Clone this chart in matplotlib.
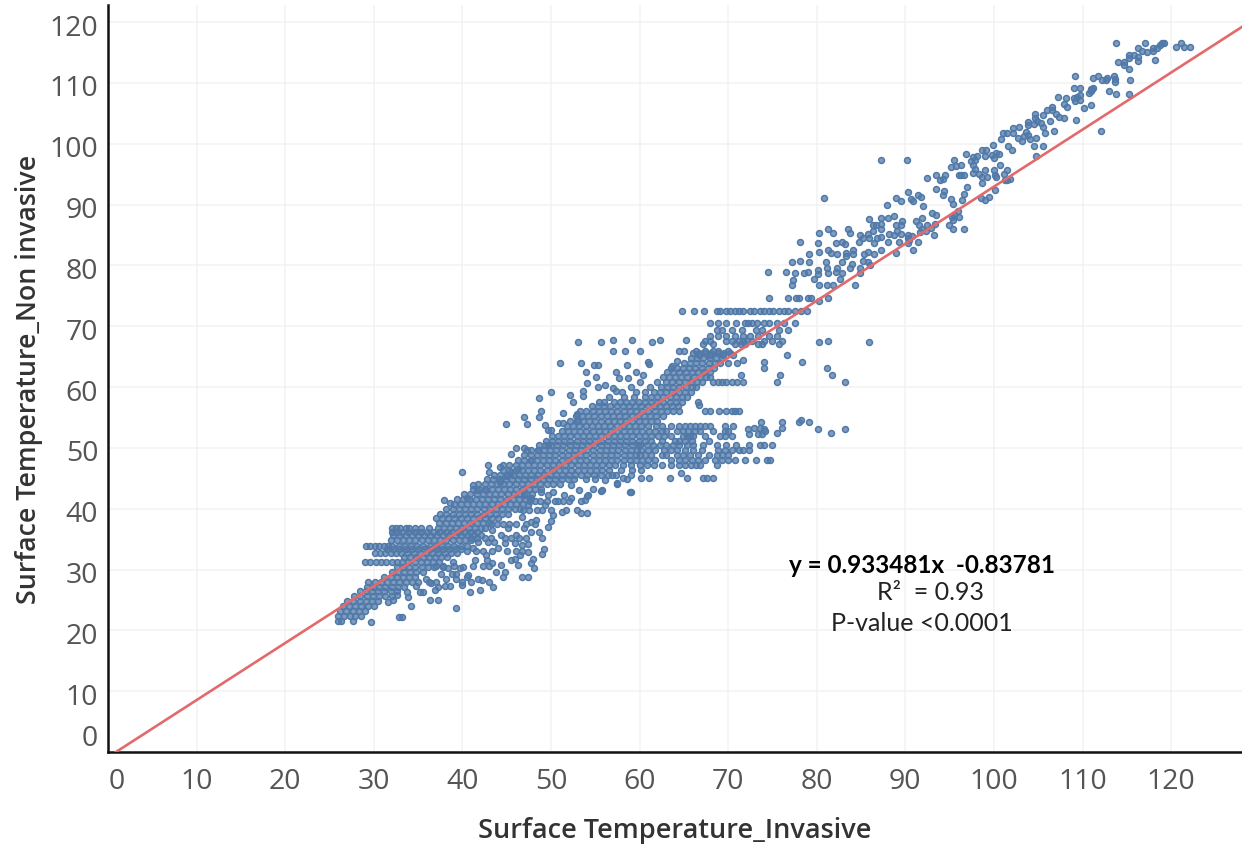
import matplotlib
matplotlib.use("Agg")
import matplotlib.pyplot as plt
from matplotlib.transforms import ScaledTranslation

# points above x=100, read one by one
top_x = [113.8,117.0,119.0,119.2,118.8,121.1,120.5,121.4,122.1,116.3,116.7,117.3,117.9,117.9,118.4,118.2,114.0,114.7,114.7,115.2,115.4,
         115.2,115.8,116.3,116.3,115.2,113.5,113.7,113.7,112.8,112.6,112.2,111.8,111.2,109.2,113.0,113.8,115.3,112.1,110.9,111.1,110.7,111.2,110.9,
         109.0,109.7,109.0,109.4,109.7,109.7,109.2,110.2,110.9,109.3,107.2,108.1,107.9,108.2,107.9,106.8,106.5,106.0,106.6,107.0,107.3,106.3,
         104.6,104.6,105.5,104.9,105.3,104.5,105.5,105.8,103.8,103.8,102.8,102.1,101.0,101.5,102.1,103.6,103.9,103.4,102.7,103.2,104.1,104.7,
         100.8,101.6,102.0,104.5,105.5,104.7,100.2,100.6,100.7,101.5,101.1,100.1,100.2,101.5,101.8,101.2,100.1]
top_y = [116.5,116.5,116.5,116.5,116.2,116.5,115.9,115.9,115.9,115.7,115.3,115.0,115.3,115.7,115.7,113.8,113.4,113.4,113.0,112.2,110.5,
         114.5,114.6,114.2,113.6,114.1,111.2,110.6,110.1,110.8,110.4,110.5,111.2,110.8,111.1,108.7,108.2,108.2,102.1,109.0,109.0,108.3,109.2,108.6,
         109.2,109.2,107.5,107.6,108.0,107.2,107.0,105.9,106.4,103.9,107.6,107.5,106.6,106.0,104.3,102.1,106.0,105.5,105.5,104.9,104.4,103.7,
         104.8,104.3,104.7,103.7,103.4,103.2,102.7,101.8,103.5,103.1,102.7,102.6,101.8,101.8,101.8,102.0,101.5,101.2,101.0,100.4,100.7,100.9,
         100.7,99.7,98.9,99.7,99.7,97.9,98.4,98.3,96.5,95.6,95.0,94.8,94.5,94.1,94.2,94.0,92.4]

# points between x=74 and x=100
upper_x = [99.9,98.7,99.1,96.8,97.6,98.1,99.0,99.8,100.0,95.5,97.4,97.9,97.6,96.3,95.7,95.1,97.9,96.0,96.3,96.6,97.6,98.3,99.0,100.0,98.7,99.2,
           93.5,94.5,94.3,93.9,92.5,98.7,87.3,90.2,80.8,93.5,97.0,94.4,94.3,96.6,98.5,99.4,99.0,96.4,95.1,95.4,90.3,89.0,89.5,90.6,91.4,91.8,90.9,92.0,87.9,
           93.0,93.5,95.9,95.5,96.1,95.3,95.4,94.9,95.4,96.6,93.2,85.9,87.3,88.0,88.7,89.6,91.2,91.9,86.3,86.7,87.3,88.9,89.5,91.5,92.5,93.3,91.9,92.3,92.9,
           81.3,81.8,83.5,83.7,80.3,84.9,85.8,86.3,87.2,88.2,88.7,89.1,89.5,90.3,90.8,91.7,85.2,85.9,86.8,87.2,90.3,
           78.1,80.1,82.2,82.9,83.2,84.8,86.5,88.0,89.3,90.3,91.4,90.4,81.3,80.3,81.6,82.3,83.3,83.3,84.1,84.1,85.3,85.8,86.5,87.3,88.9,90.9,79.1,
           77.2,78.1,79.1,81.0,82.9,85.2,85.8,84.0,86.0,74.5,76.5,77.6,78.6,79.0,80.1,80.1,81.2,81.3,82.3,82.2,82.9,83.8,84.9,84.9,
           77.3,77.2,79.7,82.6,80.3,81.2,81.8,84.3,78.0,79.0,79.4,80.3,81.3,74.6,76.8,77.7]
upper_y = [99.8,98.9,98.9,98.3,97.8,97.9,97.9,98.1,97.6,97.4,97.1,97.4,96.5,96.5,96.3,96.1,95.9,94.8,94.8,94.8,95.2,95.0,95.7,95.6,94.6,94.6,
           94.8,94.8,94.2,94.0,94.4,93.6,97.3,97.3,91.1,92.6,92.8,92.2,91.5,91.7,91.1,91.3,90.7,90.7,90.9,90.1,92.0,91.1,90.5,90.9,91.5,91.2,90.6,89.7,89.9,
           88.6,88.2,89.0,88.3,87.9,87.9,87.4,86.7,86.0,85.9,85.0,87.6,87.8,87.8,88.1,87.3,87.3,87.8,86.7,86.7,86.8,86.7,86.7,86.6,86.7,86.8,86.0,85.6,86.1,
           85.9,85.3,85.9,85.3,85.3,85.0,85.2,85.6,85.9,85.2,85.0,85.6,85.2,85.0,84.9,85.5,84.5,84.5,84.5,84.7,84.5,
           83.8,83.7,83.7,83.8,83.5,83.8,83.7,83.8,83.8,83.7,83.8,84.2,82.6,82.2,82.0,81.9,82.1,81.6,82.6,81.9,81.9,82.2,81.9,82.6,82.0,82.6,81.9,
           80.5,80.7,80.5,80.5,80.5,80.7,80.5,80.3,80.0,78.9,78.9,78.7,78.7,78.9,79.3,78.6,79.6,78.7,79.5,78.9,78.7,79.5,79.6,78.7,
           77.6,76.8,77.8,77.8,76.8,76.8,76.8,76.8,74.6,74.6,74.6,74.2,74.6,74.6,74.6,74.6]

# scatter off the band on the low side, x from 29 to 59
lower_x = [29.7,32.9,33.2,39.3,34.2,36.4,37.2,34.8,35.2,35.6,35.9,40.0,40.9,42.0,43.5,46.7,47.4,44.6,38.2,39.3,40.5,41.8,42.2,36.5,37.3,38.0,38.6,36.9,
           33.7,33.9,31.6,32.2,32.6,48.1,47.8,47.4,48.0,49.0,49.2,46.5,45.5,45.9,46.3,44.8,43.8,44.4,43.3,42.7,42.8,41.4,40.1,40.6,39.7,38.4,38.9,37.8,37.6,39.3,38.8,
           47.4,49.0,48.7,49.7,50.0,50.2,45.9,46.7,47.8,48.3,47.8,47.0,46.1,45.5,44.8,44.0,44.4,43.3,42.1,41.2,41.8,42.9,43.6,45.2,46.7,
           52.9,53.4,54.1,53.4,53.8,54.2,55.8,57.5,58.9,54.7,52.3,51.5,51.2,50.8,49.3,48.2,47.4,49.7,50.2,48.9,47.8,47.0,52.3,53.2,56.4,56.1,58.1,56.9,54.9,
           57.5,59.0,54.1,55.7,60.2,61.1,63.4,64.7,65.4,67.2,67.6,68.3]
lower_y = [21.4,22.2,22.2,23.6,24.0,25.0,25.0,27.3,26.3,26.3,28.5,27.4,26.3,26.6,27.1,28.8,28.7,28.7,28.5,28.4,28.8,28.5,28.2,27.7,27.1,27.3,27.3,26.6,
           26.3,25.5,24.7,25.0,25.8,30.2,31.0,32.8,31.8,32.5,33.4,32.4,31.5,31.7,30.8,29.6,29.6,30.7,31.0,32.4,31.5,31.5,30.4,29.1,30.2,30.2,31.3,30.4,29.3,29.3,29.3,
           34.2,35.1,36.2,37.0,38.0,39.0,34.3,34.0,36.2,38.1,37.8,36.8,35.7,35.1,34.3,33.5,35.7,36.5,35.7,33.5,34.6,34.6,34.6,36.8,38.7,
           39.8,39.3,39.3,41.2,41.4,42.3,43.0,44.2,42.8,43.2,41.7,42.3,39.5,41.2,40.6,41.2,40.6,42.3,42.8,42.8,41.7,42.3,43.9,43.0,45.5,44.7,45.0,45.5,45.5,
           44.0,42.7,42.1,42.9,45.0,45.0,45.0,45.8,45.0,45.0,45.0,45.0]

# scatter off the band on the high side, x from 38 to 66
high_x = [53.1,55.6,57.0,59.2,61.4,62.3,65.2,57.0,58.3,60.0,64.4,65.0,51.0,53.4,54.9,55.3,58.6,63.7,53.9,57.3,54.1,55.1,57.7,58.7,55.3,56.1,57.0,57.3,
          50.0,48.6,52.2,52.5,53.6,53.6,48.9,48.6,51.4,52.9,53.1,46.9,47.3,44.9,49.3,49.7,50.0,50.8,51.4,46.1,47.0,47.3,45.5,48.5,49.7,
          42.9,43.0,44.2,44.6,40.0,45.5,41.2,37.9,38.6,41.6,42.7,40.5,44.2,44.9,46.3,47.8,60.9,61.1,64.2,59.6,60.4]
high_y = [67.4,67.4,67.8,67.8,67.4,67.8,67.8,65.9,65.9,65.9,65.9,65.9,64.0,64.0,63.6,63.6,63.6,63.5,62.5,62.5,60.7,61.6,61.5,61.5,60.0,60.3,59.8,59.3,
          59.2,58.2,58.7,57.6,59.3,58.5,56.1,55.1,55.7,55.6,54.6,55.1,53.9,53.9,53.8,53.0,52.9,54.1,54.1,50.0,50.0,49.7,49.0,49.7,50.4,
          47.1,46.1,46.8,47.1,46.1,46.1,43.9,41.4,40.9,43.1,43.1,41.7,44.4,45.3,46.6,48.0,64.1,63.8,64.3,62.4,61.9]

# right hand side, lone points and the arm below the line
right_x = [74.1,74.1,76.6,78.3,81.2,81.7,83.2,75.9,75.5,80.3,81.3,85.9,71.7,71.4,66.6,66.7,
           73.7,76.1,78.0,79.1,78.2,72.9,72.2,73.6,74.0,76.1,75.5,80.1,81.6,83.2,72.3,73.4,73.8,74.2]
right_y = [64.1,63.1,65.2,64.1,63.1,61.9,60.8,61.9,60.8,67.4,67.6,67.4,64.4,61.9,57.5,57.1,
           54.2,54.2,54.2,54.2,54.5,53.3,53.1,53.3,53.1,53.3,52.5,53.1,52.5,53.1,52.3,52.3,52.3,52.7]

# the dense band, y value of a row and the x values along it
row_y = [21.6,22.4,23.2,24.0,24.8,25.6,26.4,27.2,28.0,28.8,29.6,30.4,31.2,32.0,32.7,33.4,33.9,34.8,35.6,36.1,36.9,37.6,38.4,39.2,40.0,40.8,41.6,42.4,43.2,44.0,
         44.8,45.6,46.4,47.2,48.0,48.8,49.6,50.4,51.2,52.0,52.8,53.6,54.4,55.2,56.0,56.8,57.6,58.4,59.2,60.0,60.8,61.6,62.4,63.2,64.0,64.8,65.6]
row_x = [
    [26.0,26.3,27.6],
    [26.0,26.6,27.3,27.9,28.6],
    [26.2,26.9,27.6,28.3,29.0],
    [26.5,27.2,27.9,28.6,29.3,30.0],
    [27.0,27.7,28.4,29.1,29.8,30.5],
    [27.8,28.5,29.2,29.9,30.6,31.3,32.0],
    [28.4,29.1,29.8,30.5,31.2,31.9,32.6],
    [29.2,29.9,30.6,31.3,32.0,32.7,33.4],
    [29.4,30.1,30.8,31.5,32.2,32.9,33.6,34.3],
    [31.2,31.9,32.6,33.3,34.0,34.7],
    [32.0,32.7,33.4,34.1,34.8,35.5],
    [32.6,33.3,34.0,34.7,35.4,36.1,36.8],
    [29.0,29.6,30.2,30.8,31.4,32.0,32.6,33.2,33.9,34.6,35.3,36.0,36.7,37.4],
    [33.4,34.1,34.8,35.5,36.2,36.9,37.6,38.3],
    [30.1,30.7,31.3,31.9,32.5,33.1,33.8,34.5,35.2,35.9,36.6,37.3,38.0,38.7,39.4],
    [31.5,32.2,32.9,33.6,34.3,35.0,35.7,36.4,37.1,37.8,38.5,39.2,39.9],
    [29.1,29.6,30.1,30.6,31.1,31.6,32.1,32.8,33.5,34.2,34.9,35.6,36.3,37.0,37.7,38.4,39.1,39.8,40.5],
    [31.9,32.6,33.3,34.0,34.7,35.4,36.1,36.8,37.5,38.2,38.9,39.6,40.3,41.0],
    [32.2,32.9,33.6,34.3,35.0,35.7,36.4,37.1,37.8,38.5,39.2,39.9,40.6,41.3],
    [32.0,32.6,33.2,33.9,34.6,35.3,36.0,36.7,37.4,38.1,38.8,39.5,40.2,40.9,41.6],
    [32.0,32.5,33.0,33.6,34.0,34.6,35.3,36.2,37.2,37.9,38.6,39.3,40.0,40.7,41.4,42.1,42.6],
    [37.4,38.1,38.8,39.5,40.2,40.9,41.6,42.3,43.0],
    [37.0,37.7,38.4,39.1,39.8,40.5,41.2,41.9,42.6,43.3,44.0],
    [37.5,38.2,38.9,39.6,40.3,41.0,41.7,42.4,43.1,43.8,44.5,45.2],
    [38.2,38.9,39.6,40.3,41.0,41.7,42.4,43.1,43.8,44.5,45.2,45.9,46.5],
    [39.1,39.8,40.5,41.2,41.9,42.6,43.3,44.0,44.7,45.4,46.1,46.8],
    [39.4,40.1,40.8,41.5,42.2,42.9,43.6,44.3,45.0,45.7,46.4,47.1,47.6],
    [40.2,40.9,41.6,42.3,43.0,43.7,44.4,45.1,45.8,46.5,47.2,47.9],
    [41.2,41.9,42.6,43.3,44.0,44.7,45.4,46.1,46.8,47.5,48.2,48.9],
    [41.8,42.5,43.2,43.9,44.6,45.3,46.0,46.7,47.4,48.1,48.8,49.5,50.2,51.0],
    [42.8,43.5,44.2,44.9,45.6,46.3,47.0,47.7,48.4,49.1,49.8,50.5,51.2,51.9,52.6,54.0,55.0,58.6],
    [43.6,44.3,45.0,45.7,46.4,47.1,47.8,48.5,49.2,49.9,50.6,51.3,52.0,52.7,53.4,54.1,55.6,57.3,59.0],
    [44.6,45.3,46.0,46.7,47.4,48.1,48.8,49.5,50.2,50.9,51.6,52.3,53.0,53.7,54.4,55.1,55.8,56.5,57.9,59.2,60.2],
    [45.3,46.0,46.7,47.4,48.1,48.8,49.5,50.2,50.9,51.6,52.3,53.0,53.7,54.4,55.1,55.8,56.5,57.2,58.1,59.0,60.0,60.8,61.6,62.5,63.6,64.4,65.1,65.8,66.4,66.8,68.7],
    [46.3,47.0,47.7,48.4,49.1,49.8,50.5,51.2,51.9,52.6,53.3,54.0,54.7,55.4,56.1,56.8,57.5,58.2,58.9,59.6,60.3,60.9,61.7,63.6,64.4,65.1,65.9,66.6,67.4,68.5,69.3,70.0,70.8,71.9,73.1,74.4,74.7],
    [47.0,47.7,48.4,49.1,49.8,50.5,51.2,51.9,52.6,53.3,54.0,54.7,55.4,56.1,56.8,57.5,58.2,58.9,59.6,60.0,60.6,61.3,62.5,63.0,64.2,64.9,65.7,66.6,67.8,68.7,69.3,70.0],
    [47.8,48.5,49.2,49.9,50.6,51.3,52.0,52.7,53.4,54.1,54.8,55.5,56.2,56.9,57.6,58.3,59.0,59.7,60.2,60.9,61.7,62.8,63.6,64.2,65.1,66.0,67.0,68.9,69.7,70.4,71.2,71.7,72.3],
    [48.6,49.3,50.0,50.7,51.4,52.1,52.8,53.5,54.2,54.9,55.6,56.3,57.0,57.7,58.4,59.1,59.8,60.0,60.8,61.5,62.3,63.0,63.8,64.5,65.3,66.0,67.2,68.7,69.8,70.9,72.3,73.6,74.0,74.9],
    [49.4,50.1,50.8,51.5,52.2,52.9,53.6,54.3,55.0,55.7,56.4,57.1,57.8,58.5,59.2,59.9,60.6,61.3,62.5,64.0,64.4,65.1,65.9,67.8],
    [50.1,50.8,51.5,52.2,52.9,53.6,54.3,55.0,55.7,56.4,57.1,57.8,58.5,59.2,59.9,60.6,61.3,62.1,62.8,63.6,64.9,65.3,65.7,66.0,67.4,69.1,69.7,70.4],
    [51.2,51.9,52.6,53.3,54.0,54.7,55.4,56.1,56.8,57.5,58.2,58.9,59.6,60.3,61.1,61.7,62.5,63.0,64.2,64.9,65.5,66.3,66.8,68.3,69.7,70.0],
    [51.8,52.5,53.2,53.9,54.6,55.3,56.0,56.7,57.4,58.1,58.8,59.5,60.2,60.9,61.9,62.5,63.6,64.4,65.1,65.7,66.3,66.8,67.4,68.0,69.7,70.6],
    [52.2,52.9,53.6,54.3,55.0,55.7,56.4,57.1,57.8,58.5,59.2,59.9,60.6,61.3,62.0],
    [52.8,53.5,54.2,54.9,55.6,56.3,57.0,57.7,58.4,59.1,59.8,60.5,61.2,61.9,62.6],
    [53.3,54.0,54.7,55.4,56.1,56.8,57.5,58.2,58.9,59.6,60.3,61.0,61.7,62.4,63.1,63.8,64.4,67.4,68.0,69.0,69.8,70.4,70.8,71.2],
    [54.6,55.3,56.0,56.7,57.4,58.1,58.8,59.5,60.2,60.9,61.6,62.3,63.0,63.7,64.3],
    [55.4,56.0,57.1,57.8,58.5,59.2,59.9,60.6,61.3,62.0,62.7,63.4,64.1,64.8],
    [56.6,58.2,59.4,60.6,61.3,62.0,62.7,63.4,64.1,64.8,65.4],
    [58.0,59.6,60.6,61.6,62.3,63.0,63.7,64.4,65.1,65.8],
    [59.0,61.2,62.4,63.1,63.8,64.5,65.2,65.9,66.4],
    [60.0,62.0,63.0,63.7,64.4,65.1,65.8,66.5,67.0,68.3,68.9,69.3,69.8,70.4,71.0,71.7],
    [62.6,63.3,64.0,64.7,65.4,66.1,66.8,67.5,68.0],
    [63.1,63.8,64.5,65.2,65.9,66.6,67.3,68.0],
    [63.5,64.2,64.9,65.6,66.3,67.0,67.7,68.4],
    [65.0,65.7,66.4,67.1,67.8,68.5,69.1,70.0,71.0],
    [65.8,66.5,67.2,67.9,68.6,69.3],
    [66.0,66.7,67.4,68.1,68.8,69.5,70.2],
]

# rows above the line at the end of the band
arm_y = [72.5,70.5,69.3,68.4,67.6,67.1,66.0,65.2]
arm_x = [
    [64.8,66.2,67.3,68.7,69.1,69.8,70.2,70.8,71.2,71.7,72.5,72.9,73.6,74.0,74.6,75.1,75.7,76.3,76.8,77.6,78.2,78.9],
    [68.0,68.9,69.8,70.9,71.9,72.2,72.7,73.3,74.0,74.6,75.5,76.3,77.6],
    [68.7,69.3,70.4,71.6,73.1,73.8,75.7,76.7],
    [68.0,68.9,69.8,70.8,71.7,72.5,73.4,74.6,75.5],
    [67.4,68.0,69.8,70.4,71.2,71.7,72.1,72.7,74.0,75.0,76.1],
    [67.2,68.3,70.8,71.4,71.9,73.4,73.8,75.7],
    [66.4,67.4,68.3,68.9,70.0],
    [66.7,68.0,69.4,70.6],
]

# thicker patches under the line, x from 35 to 52
fill_y = [28.0,30.5,33.0,35.2,37.4,39.8,41.2]
fill_x = [
    [35.0,36.2,37.0,40.0,41.0,43.0],
    [37.0,37.8,39.0,41.2,42.3,43.0],
    [40.5,41.5,42.3,43.4,45.0,46.0,46.7],
    [41.0,41.7,42.5,43.2,44.8,46.4,47.2],
    [43.2,43.9,44.6,45.3,46.0,47.2,48.2],
    [46.8,47.5,48.4,49.0,50.0,51.7],
    [47.6,48.8,49.6,50.4,51.4,52.0],
]

line_x = [0.9, 128.0]
line_y = [0.0, 119.2]

x_ticks = [0,10,20,30,40,50,60,70,80,90,100,110,120]
y_ticks = [0,10,20,30,40,50,60,70,80,90,100,110,120]

grouped_x = row_x + arm_x + fill_x
grouped_y = row_y + arm_y + fill_y
band_x = [v for row in grouped_x for v in row]
band_y = [y for y, row in zip(grouped_y, grouped_x) for _ in row]
all_x = top_x + upper_x + lower_x + high_x + right_x + band_x
all_y = top_y + upper_y + lower_y + high_y + right_y + band_y

plt.rcParams['font.family'] = ['Open Sans', 'DejaVu Sans']

fig = plt.figure(figsize=(12.42, 8.45), dpi=100)
ax = fig.add_axes([108/1242, 1 - 753/845, 1134/1242, 747/845])
ax.scatter(all_x, all_y, s=18, facecolors=(0.33, 0.48, 0.66, 0.75), edgecolors='#4f79a9', linewidths=1.1, zorder=2)
ax.plot(line_x, line_y, color='#e36a6c', lw=1.9, zorder=3)

ax.set_xlim(0, 128)
ax.set_ylim(0, 122.8)
ax.set_xticks(x_ticks)
ax.set_yticks(y_ticks)
ax.grid(True, color='#f2f2f4', lw=1.1, zorder=0)
ax.set_axisbelow(True)
ax.tick_params(length=0, labelsize=20.5, labelcolor='#555555')
ax.tick_params(axis='x', pad=11)
ax.tick_params(axis='y', pad=7)
for side in ['top', 'right']:
    ax.spines[side].set_visible(False)
for side in ['left', 'bottom']:
    ax.spines[side].set_linewidth(1.8)
    ax.spines[side].set_color('#111111')

# the end labels sit inside their axis, as in the original
xl = ax.get_xticklabels()[0]
xl.set_transform(xl.get_transform() + ScaledTranslation(9/100, 0, fig.dpi_scale_trans))
for lab, tick in zip(ax.get_yticklabels(), y_ticks):
    nudge = 17 if tick == 0 else -2
    lab.set_transform(lab.get_transform() + ScaledTranslation(0, nudge/100, fig.dpi_scale_trans))

ax.set_xlabel('Surface Temperature_Invasive', fontsize=19.5, fontweight='semibold', color='#333333', labelpad=15)
ax.set_ylabel('Surface Temperature_Non invasive', fontsize=19.3, fontweight='semibold', color='#333333', labelpad=5)

note_font = ['Lato', 'DejaVu Sans']
ax.text(91.9, 30.9, 'y = 0.933481x  -0.83781', ha='center', va='center', fontsize=17.5, fontweight='bold', color='black', family=note_font, zorder=5)
ax.text(92.8, 26.4, 'R²  = 0.93', ha='center', va='center', fontsize=18, color='#222222', family=note_font, zorder=5)
ax.text(91.9, 21.3, 'P-value <0.0001', ha='center', va='center', fontsize=18, color='#222222', family=note_font, zorder=5)

fig.savefig('out.png', dpi=100)
plt.close(fig)
